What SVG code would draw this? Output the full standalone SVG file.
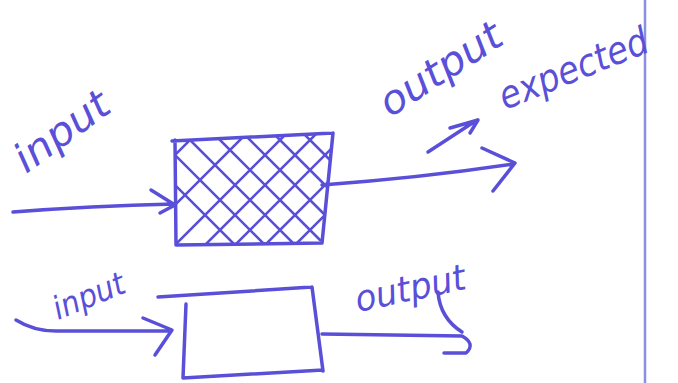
<svg xmlns="http://www.w3.org/2000/svg" width="678" height="383" viewBox="0 0 678 383">
<defs>
<style>
.ink{fill:none;stroke:#5a4fd8;stroke-width:3.5;stroke-linecap:round;stroke-linejoin:round}
.hatch{fill:none;stroke:#5a4fd8;stroke-width:2.6;stroke-linecap:round}
.lbl{font-family:"DejaVu Sans","Liberation Sans",sans-serif;font-style:italic;fill:#5a4fd8}
</style>
<clipPath id="boxclip"><path d="M174,140 L332,134 L322,242 L176,244 Z"/></clipPath>
</defs>
<rect width="678" height="383" fill="#ffffff"/>
<line x1="645" y1="0" x2="645" y2="383" stroke="#8a8fe2" stroke-width="2.5"/>
<g id="box-top">
<path class="ink" d="M172,141 L333,133 M175,140 L176,245 M333,133 L322,243 M176,245 L322,243"/>
<g clip-path="url(#boxclip)">
<path class="hatch" d="M150,180 L220,110 M150,230 L260,120 M170,250 L290,130 M200,250 L320,130 M230,250 L340,140 M260,250 L340,170 M290,250 L340,200 M150,130 L270,250 M180,130 L300,250 M210,130 L320,240 M240,130 L330,220 M270,130 L330,190 M300,130 L330,160 M160,170 L240,250"/>
</g>
</g>
<g id="box-bottom">
<path class="ink" d="M158,297 L312,287 M186,304 L183,378 M312,287 L323,371 M183,378 L323,370"/>
</g>
<g id="connectors">
<path class="ink" d="M13,212 Q90,206 174,204 M151,190 L175,205 L160,213"/>
<path class="ink" d="M322,185 Q420,178 514,164 M482,148 L515,163 L493,191"/>
<path class="ink" d="M428,152 L477,120 M450,128 L478,120 L470,133"/>
<path class="ink" d="M16,320 Q35,332 60,331 L170,331 M143,318 L172,330 L155,355"/>
<path class="ink" d="M322,334 L462,336 Q476,344 466,353 L444,353 M438,292 Q440,318 462,332"/>
</g>
<g id="labels">
<text class="lbl" font-size="40" transform="translate(26,174) rotate(-36)" textLength="108" lengthAdjust="spacingAndGlyphs">input</text>
<text class="lbl" font-size="40" transform="translate(390,118) rotate(-33)" textLength="138" lengthAdjust="spacingAndGlyphs">output</text>
<text class="lbl" font-size="38" transform="translate(505,110) rotate(-22)" textLength="158" lengthAdjust="spacingAndGlyphs">expected</text>
<text class="lbl" font-size="32" transform="translate(58,320) rotate(-22)" textLength="75" lengthAdjust="spacingAndGlyphs">input</text>
<text class="lbl" font-size="36" transform="translate(358,312) rotate(-12)" textLength="112" lengthAdjust="spacingAndGlyphs">output</text>
</g>
</svg>
